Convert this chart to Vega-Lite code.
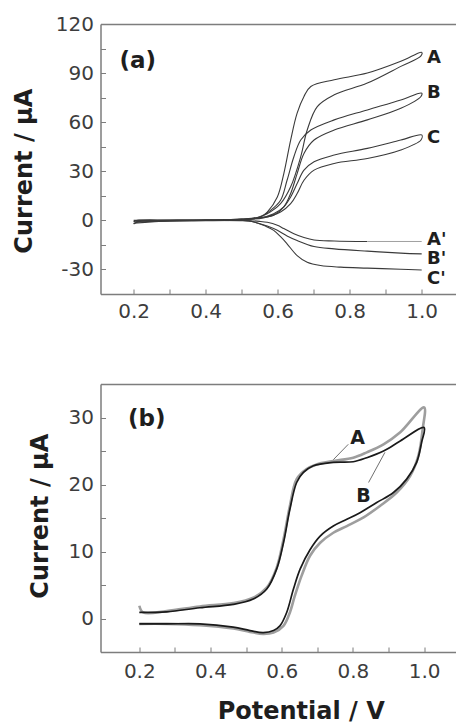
{
  "$schema": "https://vega.github.io/schema/vega-lite/v6.json",
  "background": "white",
  "padding": {"left": 11.5, "top": 14, "right": 0, "bottom": 4},
  "bounds": "flush",
  "spacing": 90,
  "config": {
    "view": {"stroke": null},
    "axis": {
      "grid": false,
      "domainColor": "#7d7d7d",
      "domainWidth": 1.5,
      "tickColor": "#7d7d7d",
      "tickWidth": 1,
      "labelFont": "DejaVu Sans",
      "labelFontSize": 20,
      "labelColor": "#3d3d3d",
      "labelOverlap": false,
      "labelFlush": false,
      "titleFont": "DejaVu Sans",
      "titleFontSize": 24,
      "titleFontWeight": "bold",
      "titleColor": "#1e1e1e"
    },
    "text": {"font": "DejaVu Sans", "fontWeight": "bold", "color": "#1e1e1e"}
  },
  "datasets": {
    "curvesA": [
      {"c": "A", "i": 0, "x": 0.2, "y": -2.2}, {"c": "A", "i": 1, "x": 0.21, "y": -1.2}, {"c": "A", "i": 2, "x": 0.25, "y": -0.6},
      {"c": "A", "i": 3, "x": 0.3, "y": -0.4}, {"c": "A", "i": 4, "x": 0.4, "y": -0.2}, {"c": "A", "i": 5, "x": 0.5, "y": 0.3},
      {"c": "A", "i": 6, "x": 0.534, "y": 1.0}, {"c": "A", "i": 7, "x": 0.571, "y": 4.1}, {"c": "A", "i": 8, "x": 0.608, "y": 10.2},
      {"c": "A", "i": 9, "x": 0.636, "y": 20.5}, {"c": "A", "i": 10, "x": 0.664, "y": 38.9}, {"c": "A", "i": 11, "x": 0.682, "y": 55.2},
      {"c": "A", "i": 12, "x": 0.71, "y": 69.5}, {"c": "A", "i": 13, "x": 0.757, "y": 76.7}, {"c": "A", "i": 14, "x": 0.849, "y": 83.9},
      {"c": "A", "i": 15, "x": 0.942, "y": 94.1}, {"c": "A", "i": 16, "x": 0.998, "y": 100.5}, {"c": "A", "i": 17, "x": 1.0, "y": 102.7},
      {"c": "A", "i": 18, "x": 0.942, "y": 97.2}, {"c": "A", "i": 19, "x": 0.849, "y": 90.0}, {"c": "A", "i": 20, "x": 0.757, "y": 85.9},
      {"c": "A", "i": 21, "x": 0.692, "y": 81.8}, {"c": "A", "i": 22, "x": 0.673, "y": 75.7}, {"c": "A", "i": 23, "x": 0.654, "y": 65.5},
      {"c": "A", "i": 24, "x": 0.636, "y": 49.1}, {"c": "A", "i": 25, "x": 0.617, "y": 28.6}, {"c": "A", "i": 26, "x": 0.599, "y": 14.3},
      {"c": "A", "i": 27, "x": 0.571, "y": 5.1}, {"c": "A", "i": 28, "x": 0.552, "y": 2.0}, {"c": "A", "i": 29, "x": 0.5, "y": 0.8},
      {"c": "A", "i": 30, "x": 0.4, "y": 0.3}, {"c": "A", "i": 31, "x": 0.3, "y": 0.2}, {"c": "A", "i": 32, "x": 0.21, "y": 0.0},
      {"c": "A", "i": 33, "x": 0.2, "y": -0.8},

      {"c": "B", "i": 0, "x": 0.2, "y": -2.0}, {"c": "B", "i": 1, "x": 0.21, "y": -1.0}, {"c": "B", "i": 2, "x": 0.3, "y": -0.3},
      {"c": "B", "i": 3, "x": 0.4, "y": 0.0}, {"c": "B", "i": 4, "x": 0.5, "y": 0.5}, {"c": "B", "i": 5, "x": 0.55, "y": 1.5},
      {"c": "B", "i": 6, "x": 0.589, "y": 3.1}, {"c": "B", "i": 7, "x": 0.617, "y": 8.2}, {"c": "B", "i": 8, "x": 0.636, "y": 16.4},
      {"c": "B", "i": 9, "x": 0.654, "y": 28.6}, {"c": "B", "i": 10, "x": 0.673, "y": 40.9}, {"c": "B", "i": 11, "x": 0.701, "y": 49.1},
      {"c": "B", "i": 12, "x": 0.757, "y": 55.2}, {"c": "B", "i": 13, "x": 0.849, "y": 61.4}, {"c": "B", "i": 14, "x": 0.942, "y": 68.5},
      {"c": "B", "i": 15, "x": 0.998, "y": 75.7}, {"c": "B", "i": 16, "x": 1.0, "y": 77.7}, {"c": "B", "i": 17, "x": 0.942, "y": 73.6},
      {"c": "B", "i": 18, "x": 0.849, "y": 67.5}, {"c": "B", "i": 19, "x": 0.757, "y": 61.4}, {"c": "B", "i": 20, "x": 0.692, "y": 55.2},
      {"c": "B", "i": 21, "x": 0.664, "y": 49.1}, {"c": "B", "i": 22, "x": 0.645, "y": 38.9}, {"c": "B", "i": 23, "x": 0.626, "y": 24.5},
      {"c": "B", "i": 24, "x": 0.608, "y": 12.3}, {"c": "B", "i": 25, "x": 0.58, "y": 6.1}, {"c": "B", "i": 26, "x": 0.55, "y": 2.2},
      {"c": "B", "i": 27, "x": 0.5, "y": 0.8}, {"c": "B", "i": 28, "x": 0.4, "y": 0.3}, {"c": "B", "i": 29, "x": 0.3, "y": 0.1},
      {"c": "B", "i": 30, "x": 0.2, "y": -0.5},

      {"c": "C", "i": 0, "x": 0.2, "y": -1.8}, {"c": "C", "i": 1, "x": 0.3, "y": -0.3}, {"c": "C", "i": 2, "x": 0.4, "y": 0.0},
      {"c": "C", "i": 3, "x": 0.5, "y": 0.4}, {"c": "C", "i": 4, "x": 0.56, "y": 1.5}, {"c": "C", "i": 5, "x": 0.608, "y": 5.1},
      {"c": "C", "i": 6, "x": 0.636, "y": 10.2}, {"c": "C", "i": 7, "x": 0.654, "y": 16.4}, {"c": "C", "i": 8, "x": 0.673, "y": 24.5},
      {"c": "C", "i": 9, "x": 0.701, "y": 30.7}, {"c": "C", "i": 10, "x": 0.757, "y": 34.8}, {"c": "C", "i": 11, "x": 0.849, "y": 37.8},
      {"c": "C", "i": 12, "x": 0.942, "y": 43.0}, {"c": "C", "i": 13, "x": 0.998, "y": 49.1}, {"c": "C", "i": 14, "x": 1.0, "y": 52.2},
      {"c": "C", "i": 15, "x": 0.942, "y": 49.1}, {"c": "C", "i": 16, "x": 0.849, "y": 44.0}, {"c": "C", "i": 17, "x": 0.757, "y": 39.9},
      {"c": "C", "i": 18, "x": 0.701, "y": 35.8}, {"c": "C", "i": 19, "x": 0.673, "y": 30.7}, {"c": "C", "i": 20, "x": 0.654, "y": 22.5},
      {"c": "C", "i": 21, "x": 0.636, "y": 14.3}, {"c": "C", "i": 22, "x": 0.617, "y": 8.2}, {"c": "C", "i": 23, "x": 0.589, "y": 4.1},
      {"c": "C", "i": 24, "x": 0.55, "y": 1.5}, {"c": "C", "i": 25, "x": 0.5, "y": 0.6}, {"c": "C", "i": 26, "x": 0.4, "y": 0.2},
      {"c": "C", "i": 27, "x": 0.2, "y": 0.0},

      {"c": "A'", "i": 0, "x": 0.45, "y": 0.0}, {"c": "A'", "i": 1, "x": 0.52, "y": -0.2}, {"c": "A'", "i": 2, "x": 0.55, "y": -0.6},
      {"c": "A'", "i": 3, "x": 0.571, "y": -1.2}, {"c": "A'", "i": 4, "x": 0.599, "y": -3.0}, {"c": "A'", "i": 5, "x": 0.617, "y": -5.0},
      {"c": "A'", "i": 6, "x": 0.645, "y": -8.2}, {"c": "A'", "i": 7, "x": 0.673, "y": -10.5}, {"c": "A'", "i": 8, "x": 0.701, "y": -12.0},
      {"c": "A'", "i": 9, "x": 0.757, "y": -12.6}, {"c": "A'", "i": 10, "x": 0.849, "y": -12.9},

      {"c": "B'", "i": 0, "x": 0.45, "y": 0.0}, {"c": "B'", "i": 1, "x": 0.52, "y": -0.3}, {"c": "B'", "i": 2, "x": 0.543, "y": -1.6},
      {"c": "B'", "i": 3, "x": 0.571, "y": -3.5}, {"c": "B'", "i": 4, "x": 0.599, "y": -6.1}, {"c": "B'", "i": 5, "x": 0.626, "y": -9.5},
      {"c": "B'", "i": 6, "x": 0.654, "y": -12.3}, {"c": "B'", "i": 7, "x": 0.701, "y": -16.0}, {"c": "B'", "i": 8, "x": 0.757, "y": -17.4},
      {"c": "B'", "i": 9, "x": 0.849, "y": -18.8}, {"c": "B'", "i": 10, "x": 0.942, "y": -20.0}, {"c": "B'", "i": 11, "x": 1.0, "y": -20.5},

      {"c": "C'", "i": 0, "x": 0.45, "y": 0.0}, {"c": "C'", "i": 1, "x": 0.52, "y": -0.3}, {"c": "C'", "i": 2, "x": 0.543, "y": -1.6},
      {"c": "C'", "i": 3, "x": 0.566, "y": -3.5}, {"c": "C'", "i": 4, "x": 0.589, "y": -6.1}, {"c": "C'", "i": 5, "x": 0.608, "y": -10.0},
      {"c": "C'", "i": 6, "x": 0.626, "y": -14.3}, {"c": "C'", "i": 7, "x": 0.654, "y": -21.5}, {"c": "C'", "i": 8, "x": 0.682, "y": -25.6},
      {"c": "C'", "i": 9, "x": 0.719, "y": -27.6}, {"c": "C'", "i": 10, "x": 0.775, "y": -28.6}, {"c": "C'", "i": 11, "x": 0.849, "y": -29.2},
      {"c": "C'", "i": 12, "x": 0.942, "y": -29.9}, {"c": "C'", "i": 13, "x": 1.0, "y": -30.3}
    ],
    "leaderA": [
      {"x": 0.849, "y": -12.9}, {"x": 1.0, "y": -12.9}
    ],
    "labelsA": [
      {"t": "A", "x": 1.015, "y": 99.2}, {"t": "B", "x": 1.015, "y": 77.7}, {"t": "C", "x": 1.015, "y": 50.1},
      {"t": "A'", "x": 1.015, "y": -11.9}, {"t": "B'", "x": 1.015, "y": -23.5}, {"t": "C'", "x": 1.015, "y": -35.8}
    ],
    "tagA": [{"t": "(a)", "x": 0.211, "y": 97.3}],
    "curvesB": [
      {"c": "A", "i": 0, "x": 0.2, "y": 1.9}, {"c": "A", "i": 1, "x": 0.211, "y": 0.9}, {"c": "A", "i": 2, "x": 0.277, "y": 1.1},
      {"c": "A", "i": 3, "x": 0.37, "y": 1.8}, {"c": "A", "i": 4, "x": 0.464, "y": 2.3}, {"c": "A", "i": 5, "x": 0.52, "y": 3.1},
      {"c": "A", "i": 6, "x": 0.558, "y": 4.6}, {"c": "A", "i": 7, "x": 0.586, "y": 7.6}, {"c": "A", "i": 8, "x": 0.605, "y": 11.8},
      {"c": "A", "i": 9, "x": 0.623, "y": 16.8}, {"c": "A", "i": 10, "x": 0.642, "y": 20.8}, {"c": "A", "i": 11, "x": 0.67, "y": 22.3},
      {"c": "A", "i": 12, "x": 0.698, "y": 23.0}, {"c": "A", "i": 13, "x": 0.745, "y": 23.5}, {"c": "A", "i": 14, "x": 0.801, "y": 24.0},
      {"c": "A", "i": 15, "x": 0.839, "y": 24.8}, {"c": "A", "i": 16, "x": 0.886, "y": 26.0}, {"c": "A", "i": 17, "x": 0.933, "y": 27.8},
      {"c": "A", "i": 18, "x": 1.0, "y": 31.5}, {"c": "A", "i": 19, "x": 0.996, "y": 28.3}, {"c": "A", "i": 20, "x": 0.984, "y": 24.3},
      {"c": "A", "i": 21, "x": 0.961, "y": 21.3}, {"c": "A", "i": 22, "x": 0.923, "y": 18.8}, {"c": "A", "i": 23, "x": 0.876, "y": 16.8},
      {"c": "A", "i": 24, "x": 0.83, "y": 15.1}, {"c": "A", "i": 25, "x": 0.783, "y": 13.8}, {"c": "A", "i": 26, "x": 0.745, "y": 12.8},
      {"c": "A", "i": 27, "x": 0.708, "y": 11.3}, {"c": "A", "i": 28, "x": 0.68, "y": 9.4}, {"c": "A", "i": 29, "x": 0.656, "y": 6.4},
      {"c": "A", "i": 30, "x": 0.637, "y": 3.4}, {"c": "A", "i": 31, "x": 0.623, "y": 0.9}, {"c": "A", "i": 32, "x": 0.605, "y": -1.1},
      {"c": "A", "i": 33, "x": 0.577, "y": -2.1}, {"c": "A", "i": 34, "x": 0.548, "y": -2.3}, {"c": "A", "i": 35, "x": 0.511, "y": -2.0},
      {"c": "A", "i": 36, "x": 0.464, "y": -1.5}, {"c": "A", "i": 37, "x": 0.37, "y": -1.0}, {"c": "A", "i": 38, "x": 0.277, "y": -0.8},
      {"c": "A", "i": 39, "x": 0.2, "y": -0.8},

      {"c": "B", "i": 0, "x": 0.2, "y": 0.9}, {"c": "B", "i": 1, "x": 0.277, "y": 1.0}, {"c": "B", "i": 2, "x": 0.37, "y": 1.6},
      {"c": "B", "i": 3, "x": 0.464, "y": 2.1}, {"c": "B", "i": 4, "x": 0.52, "y": 2.9}, {"c": "B", "i": 5, "x": 0.558, "y": 4.4},
      {"c": "B", "i": 6, "x": 0.586, "y": 7.4}, {"c": "B", "i": 7, "x": 0.605, "y": 11.3}, {"c": "B", "i": 8, "x": 0.623, "y": 16.3},
      {"c": "B", "i": 9, "x": 0.642, "y": 20.3}, {"c": "B", "i": 10, "x": 0.661, "y": 21.8}, {"c": "B", "i": 11, "x": 0.689, "y": 22.8},
      {"c": "B", "i": 12, "x": 0.745, "y": 23.3}, {"c": "B", "i": 13, "x": 0.801, "y": 23.4}, {"c": "B", "i": 14, "x": 0.839, "y": 24.0},
      {"c": "B", "i": 15, "x": 0.886, "y": 25.0}, {"c": "B", "i": 16, "x": 0.933, "y": 26.5}, {"c": "B", "i": 17, "x": 1.0, "y": 28.5},
      {"c": "B", "i": 18, "x": 0.993, "y": 26.3}, {"c": "B", "i": 19, "x": 0.979, "y": 23.3}, {"c": "B", "i": 20, "x": 0.951, "y": 20.8},
      {"c": "B", "i": 21, "x": 0.914, "y": 18.8}, {"c": "B", "i": 22, "x": 0.867, "y": 17.3}, {"c": "B", "i": 23, "x": 0.82, "y": 15.8},
      {"c": "B", "i": 24, "x": 0.783, "y": 14.8}, {"c": "B", "i": 25, "x": 0.745, "y": 13.8}, {"c": "B", "i": 26, "x": 0.708, "y": 12.3},
      {"c": "B", "i": 27, "x": 0.68, "y": 10.3}, {"c": "B", "i": 28, "x": 0.652, "y": 7.4}, {"c": "B", "i": 29, "x": 0.633, "y": 4.4},
      {"c": "B", "i": 30, "x": 0.614, "y": 0.9}, {"c": "B", "i": 31, "x": 0.595, "y": -1.1}, {"c": "B", "i": 32, "x": 0.577, "y": -1.8},
      {"c": "B", "i": 33, "x": 0.548, "y": -2.1}, {"c": "B", "i": 34, "x": 0.511, "y": -1.8}, {"c": "B", "i": 35, "x": 0.464, "y": -1.3},
      {"c": "B", "i": 36, "x": 0.37, "y": -0.8}, {"c": "B", "i": 37, "x": 0.277, "y": -0.8}, {"c": "B", "i": 38, "x": 0.2, "y": -0.8}
    ],
    "leadersB": [
      {"c": "A", "x": 0.787, "y": 26.0}, {"c": "A", "x": 0.745, "y": 23.7},
      {"c": "B", "x": 0.844, "y": 20.3}, {"c": "B", "x": 0.89, "y": 24.8}
    ],
    "labelsB": [
      {"t": "A", "x": 0.813, "y": 27.0}, {"t": "B", "x": 0.83, "y": 18.3}
    ],
    "tagB": [{"t": "(b)", "x": 0.221, "y": 29.75}]
  },
  "vconcat": [
    {
      "width": 355,
      "height": 270,
      "resolve": {"axis": {"x": "independent"}},
      "encoding": {
        "y": {
          "field": "y", "type": "quantitative",
          "scale": {"domain": [-45, 120], "nice": false, "zero": false},
          "axis": {
            "title": "Current / μA",
            "values": [-30, -15, 0, 15, 30, 45, 60, 75, 90, 105, 120],
            "labelExpr": "datum.value % 30 === 0 ? replace(datum.label, '−', '-') : ''",
            "tickSize": -5, "labelPadding": 12,
            "titleX": -76.5, "titleY": 146.7, "titleBaseline": "middle", "titleAlign": "center", "titleAngle": 270
          }
        }
      },
      "layer": [
        {
          "data": {"name": "curvesA"},
          "mark": {"type": "line", "stroke": "#3a3a3a", "strokeWidth": 1.1, "interpolate": "catmull-rom"},
          "encoding": {
            "x": {
              "field": "x", "type": "quantitative",
              "scale": {"domain": [0.1078, 1.0939], "nice": false, "zero": false},
              "axis": {
                "orient": "bottom", "title": null,
                "values": [0.2, 0.3, 0.4, 0.5, 0.6, 0.7, 0.8, 0.9, 1.0],
                "format": ".1f",
                "labelExpr": "round(datum.value * 10) % 2 === 0 ? datum.label : ''",
                "tickSize": -5, "labelPadding": 12
              }
            },
            "detail": {"field": "c"},
            "order": {"field": "i"}
          }
        },
        {
          "data": {"name": "leaderA"},
          "mark": {"type": "line", "stroke": "#a0a0a0", "strokeWidth": 1},
          "encoding": {
            "x": {"field": "x", "type": "quantitative", "scale": {"domain": [0.1078, 1.0939], "nice": false, "zero": false}, "axis": null}
          }
        },
        {
          "data": {"name": "labelsA"},
          "mark": {"type": "text", "align": "left", "baseline": "middle", "fontSize": 18},
          "encoding": {
            "x": {
              "field": "x", "type": "quantitative",
              "scale": {"domain": [0.1078, 1.0939], "nice": false, "zero": false},
              "axis": {"orient": "top", "labels": false, "ticks": false, "domain": true, "title": null}
            },
            "text": {"field": "t"}
          }
        },
        {
          "data": {"name": "tagA"},
          "mark": {"type": "text", "align": "center", "baseline": "middle", "fontSize": 23},
          "encoding": {
            "x": {"field": "x", "type": "quantitative", "scale": {"domain": [0.1078, 1.0939], "nice": false, "zero": false}, "axis": null},
            "text": {"field": "t"}
          }
        }
      ]
    },
    {
      "width": 355,
      "height": 268,
      "resolve": {"axis": {"x": "independent"}},
      "encoding": {
        "y": {
          "field": "y", "type": "quantitative",
          "scale": {"domain": [-5, 35], "nice": false, "zero": false},
          "axis": {
            "title": "Current / μA",
            "values": [0, 5, 10, 15, 20, 25, 30],
            "labelExpr": "datum.value % 10 === 0 ? datum.label : ''",
            "tickSize": -5, "labelPadding": 12,
            "titleX": -60.5, "titleY": 131.7, "titleBaseline": "middle", "titleAlign": "center", "titleAngle": 270
          }
        }
      },
      "layer": [
        {
          "data": {"name": "curvesB"},
          "transform": [{"filter": "datum.c === 'A'"}],
          "mark": {"type": "line", "stroke": "#9e9e9e", "strokeWidth": 2.6, "interpolate": "catmull-rom"},
          "encoding": {
            "x": {
              "field": "x", "type": "quantitative",
              "scale": {"domain": [0.091, 1.0882], "nice": false, "zero": false},
              "axis": {
                "orient": "bottom", "title": "Potential / V",
                "values": [0.2, 0.3, 0.4, 0.5, 0.6, 0.7, 0.8, 0.9, 1.0],
                "format": ".1f",
                "labelExpr": "round(datum.value * 10) % 2 === 0 ? datum.label : ''",
                "tickSize": -5, "labelPadding": 14,
                "titleX": 200.2, "titleY": 59.5, "titleBaseline": "middle", "titleAlign": "center"
              }
            },
            "order": {"field": "i"}
          }
        },
        {
          "data": {"name": "curvesB"},
          "transform": [{"filter": "datum.c === 'B'"}],
          "mark": {"type": "line", "stroke": "#1a1a1a", "strokeWidth": 1.7, "interpolate": "catmull-rom"},
          "encoding": {
            "x": {"field": "x", "type": "quantitative", "scale": {"domain": [0.091, 1.0882], "nice": false, "zero": false}, "axis": null},
            "order": {"field": "i"}
          }
        },
        {
          "data": {"name": "leadersB"},
          "mark": {"type": "line", "stroke": "#707070", "strokeWidth": 1},
          "encoding": {
            "x": {"field": "x", "type": "quantitative", "scale": {"domain": [0.091, 1.0882], "nice": false, "zero": false}, "axis": null},
            "detail": {"field": "c"}
          }
        },
        {
          "data": {"name": "labelsB"},
          "mark": {"type": "text", "align": "center", "baseline": "middle", "fontSize": 19},
          "encoding": {
            "x": {
              "field": "x", "type": "quantitative",
              "scale": {"domain": [0.091, 1.0882], "nice": false, "zero": false},
              "axis": {"orient": "top", "labels": false, "ticks": false, "domain": true, "title": null}
            },
            "text": {"field": "t"}
          }
        },
        {
          "data": {"name": "tagB"},
          "mark": {"type": "text", "align": "center", "baseline": "middle", "fontSize": 23},
          "encoding": {
            "x": {"field": "x", "type": "quantitative", "scale": {"domain": [0.091, 1.0882], "nice": false, "zero": false}, "axis": null},
            "text": {"field": "t"}
          }
        }
      ]
    }
  ]
}
